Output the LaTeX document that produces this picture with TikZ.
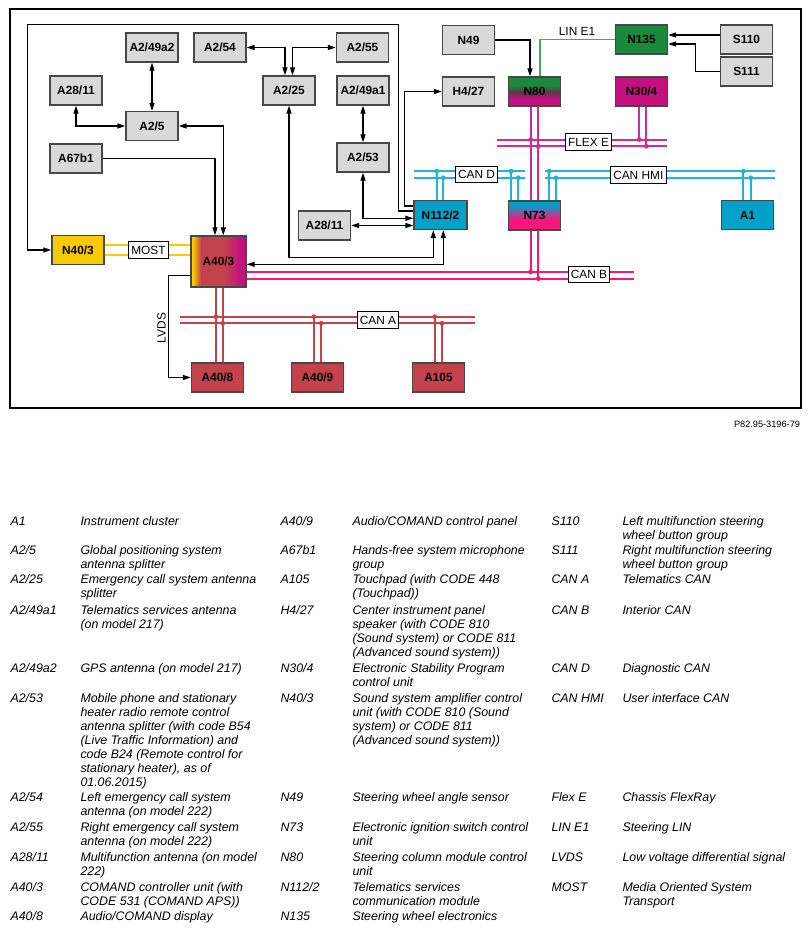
\documentclass[tikz,border=0pt]{standalone}
\usepackage{fontspec}
\setmainfont{Liberation Sans}
\usetikzlibrary{arrows.meta,calc}

\definecolor{boxgrey}{HTML}{D9D9D9}
\definecolor{edgegrey}{HTML}{474747}
\definecolor{ecucyan}{HTML}{00A1C9}
\definecolor{buscyan}{HTML}{20B3DB}
\definecolor{ecugreen}{HTML}{1B893B}
\definecolor{lingreen}{HTML}{45A862}
\definecolor{ecumag}{HTML}{C4117F}
\definecolor{flexmag}{HTML}{CF2A9E}
\definecolor{canbpink}{HTML}{F7167C}
\definecolor{canared}{HTML}{C3424B}
\definecolor{mostyel}{HTML}{F7CB00}
\colorlet{mostorange}{mostyel!55!canared}
\colorlet{columndark}{ecumag!50!ecugreen!75!black}
\colorlet{ignitionmix}{ecucyan!50!canbpink}

\pgfdeclarehorizontalshading{comandshade}{100bp}{color(0bp)=(mostyel); color(25bp)=(mostyel); color(27bp)=(mostyel); color(30bp)=(mostorange); color(34bp)=(canared); color(55bp)=(canared); color(70bp)=(ecumag); color(100bp)=(ecumag)}
\pgfdeclareverticalshading{columnshade}{100bp}{color(0bp)=(ecumag); color(38bp)=(ecumag); color(50bp)=(columndark); color(60bp)=(ecugreen); color(100bp)=(ecugreen)}
\pgfdeclareverticalshading{ignitionshade}{100bp}{color(0bp)=(canbpink); color(44bp)=(canbpink); color(56bp)=(ignitionmix); color(68bp)=(ecucyan); color(100bp)=(ecucyan)}

% legend entry set from its first baseline
\newcommand{\legdesc}[1]{\begin{tabular}[t]{@{}l@{}}#1\end{tabular}}

\tikzset{every picture/.style={line width=0.75pt}}
\tikzset{
  ecu/.style={draw=edgegrey, line width=1pt, minimum width=39pt, minimum height=21.75pt, inner sep=0pt, font=\fontsize{8.9}{10}\selectfont\bfseries},
  greybox/.style={ecu, fill=boxgrey},
  cyanbox/.style={ecu, fill=ecucyan},
  redbox/.style={ecu, fill=canared},
  arr/.style={-{Triangle[length=6pt,width=3.8pt]}, line width=0.9pt},
  dbl/.style={{Triangle[length=6pt,width=3.8pt]}-{Triangle[length=6pt,width=3.8pt]}, line width=0.9pt},
  lin/.style={draw=lingreen, line width=0.9pt},
  bus/.style={line width=1.5pt, double=white, double distance=3.45pt},
  widebus/.style={line width=1.5pt, double=white, double distance=5.5pt},
  tap/.style={line width=1.5pt},
  buslabel/.style={draw=black, fill=white, line width=0.6pt, inner xsep=2pt, inner ysep=0pt, minimum height=12.5pt, font=\fontsize{8.9}{10}\selectfont},
  plain/.style={inner sep=0pt, font=\fontsize{8.9}{10}\selectfont},
  legcode/.style={anchor=base west, inner sep=0pt, font=\fontsize{9.3}{10.6}\selectfont\itshape},
  legtext/.style={legcode},
}

\begin{document}
\begin{tikzpicture}[x=0.75pt,y=0.75pt,yscale=-1,xscale=1]
\path[use as bounding box] (0,0) rectangle (811,931);

%Shape: Frame
\draw[line width=0.9pt] (10,9) rectangle (801,408);

%Control units
\node[greybox] (A249a2) at (152,47.5) {A2/49a2};
\node[greybox] (A254) at (220,47.5) {A2/54};
\node[greybox] (A255) at (362.5,47.5) {A2/55};
\node[greybox] (A2811t) at (76,90.5) {A28/11};
\node[greybox] (A225) at (289,90.5) {A2/25};
\node[greybox] (A249a1) at (363,90.5) {A2/49a1};
\node[greybox] (A25) at (152,126) {A2/5};
\node[greybox] (A67b1) at (76,158.5) {A67b1};
\node[greybox] (A253) at (363,157.5) {A2/53};
\node[greybox] (N49) at (468.5,40) {N49};
\node[greybox] (H427) at (468.5,91.5) {H4/27};
\node[greybox] (S110) at (746.5,39.5) {S110};
\node[greybox] (S111) at (746.5,71.5) {S111};
\node[ecu, fill=ecugreen] (N135) at (641.5,39.5) {N135};
\node[ecu, shade, shading=columnshade] (N80) at (534.5,91.5) {N80};
\node[ecu, fill=ecumag] (N304) at (641.5,91.5) {N30/4};
\node[cyanbox, minimum width=39.75pt] (N1122) at (440.5,215) {N112/2};
\node[ecu, shade, shading=ignitionshade] (N73) at (534.5,215.5) {N73};
\node[cyanbox] (A1) at (747.5,215) {A1};
\node[greybox] (A2811m) at (324.5,225.5) {A28/11};
\node[ecu, fill=mostyel] (N403) at (78,250) {N40/3};
\node[ecu, shade, shading=comandshade, minimum width=41.25pt, minimum height=38.25pt] (A403) at (218.5,261.5) {A40/3};
\node[redbox] (A408) at (217.5,377.5) {A40/8};
\node[redbox] (A409) at (317.5,377.5) {A40/9};
\node[redbox] (A105) at (438.5,377.5) {A105};

%Bend points of the long return line
\coordinate (loopNE) at (398.3,24.3);
\coordinate (loopNW) at (27.7,24.3);

%Signal lines
\draw[dbl] (A249a2.south) -- (A25.north);
\draw[dbl] (A2811t.south) |- (A25.west);
\draw[dbl] (A25.east) -| ($(A403.north)+(4.8,0)$);
\draw[arr] (A67b1.east) -| ($(A403.north)+(-3.5,0)$);
\draw[dbl] (A254.east) -| ($(A225.north)+(-4,0)$);
\draw[dbl] (A255.west) -| ($(A225.north)+(3.5,0)$);
\draw[dbl] (A249a1.south) -- (A253.north);
\draw[dbl] (A253.south) |- ($(N1122.west)+(0,3.3)$);
\draw[dbl] (A2811m.east) -- (A2811m.east -| N1122.west);
\draw[dbl] (A225.south) |- ($(N1122.south)+(-7.2,27.7)$) -- ($(N1122.south)+(-7.2,0)$);
\draw[dbl] ($(A403.east)+(0,2.8)$) -| ($(N1122.south)+(2.8,0)$);
\draw[arr] ($(N1122.west)+(0,-9)$) -| ($(H427.west)+(-37,0)$) -- (H427.west);
\draw[arr] ($(N1122.west)+(0,-4)$) -| (loopNE) -- (loopNW) |- (N403.west);
\draw[arr] (N49.east) -| ($(N80.north)+(-4.5,0)$);
\draw[lin] ($(N80.north)+(5.5,0)$) |- (N135.west);
\draw[arr] ($(S110.west)+(0,-4.5)$) -- ($(N135.east)+(0,-4.5)$);
\draw[arr] (S111.west) -- ++(-24.3,0) |- ($(N135.east)+(0,4.5)$);
\draw[arr] ($(A403.west)+(0,13.8)$) -- ++(-22,0) |- (A408.west);

%Bus ends
\coordinate (flexW) at (496.7,142.85);
\coordinate (flexE) at (666.7,142.85);
\coordinate (canDW) at (414.3,174.5);
\coordinate (canDE) at (525,174.5);
\coordinate (hmiW) at (545,174.5);
\coordinate (hmiE) at (775,174.5);
\coordinate (canBE) at (634,275.3);
\coordinate (canAW) at (180,320);
\coordinate (canAE) at (475,320);

%Bus junctions
\coordinate (df1) at (530.7,139.5);
\coordinate (df2) at (538.3,146.2);
\coordinate (df3) at (639.3,139.5);
\coordinate (df4) at (646.3,146.2);
\coordinate (dd1) at (436.7,171.2);
\coordinate (dd2) at (443.3,177.8);
\coordinate (dd3) at (511,171.2);
\coordinate (dd4) at (518.3,177.8);
\coordinate (dh1) at (549.3,171.2);
\coordinate (dh2) at (556,177.8);
\coordinate (dh3) at (743.3,171.2);
\coordinate (dh4) at (750.7,177.8);
\coordinate (db1) at (530.7,272);
\coordinate (db2) at (538.3,278.6);
\coordinate (da1) at (216,316.7);
\coordinate (da2) at (222.7,323.3);
\coordinate (da3) at (314,316.7);
\coordinate (da4) at (321.3,323.3);
\coordinate (da5) at (434.7,316.7);
\coordinate (da6) at (442,323.3);

%Buses
\draw[widebus, draw=mostyel] (N403.east) -- (N403.east -| A403.west);
\draw[bus, draw=flexmag] (flexW) -- (flexE);
\draw[bus, draw=buscyan] (canDW) -- (canDE);
\draw[bus, draw=buscyan] (hmiW) -- (hmiE);
\draw[bus, draw=canbpink] (A403.east |- canBE) -- (canBE);
\draw[bus, draw=canared] (canAW) -- (canAE);

%Stubs
\draw[tap, flexmag] (N80.south -| df1) -- (N73.north -| df1);
\draw[tap, flexmag] (N80.south -| df2) -- (N73.north -| df2);
\draw[tap, flexmag] (N304.south -| df3) -- (df3);
\draw[tap, flexmag] (N304.south -| df4) -- (df4);
\draw[tap, buscyan] (dd1) -- (N1122.north -| dd1);
\draw[tap, buscyan] (dd2) -- (N1122.north -| dd2);
\draw[tap, buscyan] (dd3) -- (N73.north -| dd3);
\draw[tap, buscyan] (dd4) -- (N73.north -| dd4);
\draw[tap, buscyan] (dh1) -- (N73.north -| dh1);
\draw[tap, buscyan] (dh2) -- (N73.north -| dh2);
\draw[tap, buscyan] (dh3) -- (A1.north -| dh3);
\draw[tap, buscyan] (dh4) -- (A1.north -| dh4);
\draw[tap, canbpink] (N73.south -| db1) -- (db1);
\draw[tap, canbpink] (N73.south -| db2) -- (db2);
\draw[tap, canared] (A403.south -| da1) -- (A408.north -| da1);
\draw[tap, canared] (A403.south -| da2) -- (A408.north -| da2);
\draw[tap, canared] (da3) -- (A409.north -| da3);
\draw[tap, canared] (da4) -- (A409.north -| da4);
\draw[tap, canared] (da5) -- (A105.north -| da5);
\draw[tap, canared] (da6) -- (A105.north -| da6);

\fill[flexmag] (df1) circle (2.4) (df2) circle (2.4) (df3) circle (2.4) (df4) circle (2.4);
\fill[buscyan] (dd1) circle (2.4) (dd2) circle (2.4) (dd3) circle (2.4) (dd4) circle (2.4);
\fill[buscyan] (dh1) circle (2.4) (dh2) circle (2.4) (dh3) circle (2.4) (dh4) circle (2.4);
\fill[canbpink] (db1) circle (2.4) (db2) circle (2.4);
\fill[canared] (da1) circle (2.4) (da2) circle (2.4) (da3) circle (2.4) (da4) circle (2.4) (da5) circle (2.4) (da6) circle (2.4);

% Text Node
\node[buslabel] (most) at (148.5,250) {MOST};
\node[buslabel] (canA) at (378,320) {CAN A};
\node[buslabel] (canB) at (589,274.5) {CAN B};
\node[buslabel] (flexE) at (588.5,142) {FLEX E};
\node[buslabel] (canD) at (476.5,174.5) {CAN D};
\node[buslabel] (canHMI) at (638.3,175) {CAN HMI};
\node[plain] (linE1) at (577,31) {LIN E1};
\node[plain, rotate=90] (lvds) at (161.5,328) {LVDS};
\node[plain, anchor=east, font=\fontsize{6.9}{8}\selectfont] (pnum) at (800.5,424) {P82.95-3196-79};

% Legend, first column
\node[legcode] (ka1) at (10,525) {A1};
\node[legtext] (ta1) at (80,525) {Instrument cluster};
\node[legcode] (ka2) at (10,554) {A2/5};
\node[legtext] (ta2) at (80,554) {\legdesc{Global positioning system\\antenna splitter}};
\node[legcode] (ka3) at (10,583) {A2/25};
\node[legtext] (ta3) at (80,583) {\legdesc{Emergency call system antenna\\splitter}};
\node[legcode] (ka4) at (10,614) {A2/49a1};
\node[legtext] (ta4) at (80,614) {\legdesc{Telematics services antenna\\(on model 217)}};
\node[legcode] (ka5) at (10,672) {A2/49a2};
\node[legtext] (ta5) at (80,672) {GPS antenna (on model 217)};
\node[legcode] (ka6) at (10,702) {A2/53};
\node[legtext] (ta6) at (80,702) {\legdesc{Mobile phone and stationary\\heater radio remote control\\antenna splitter (with code B54\\(Live Traffic Information) and\\code B24 (Remote control for\\stationary heater), as of\\01.06.2015)}};
\node[legcode] (ka7) at (10,801) {A2/54};
\node[legtext] (ta7) at (80,801) {\legdesc{Left emergency call system\\antenna (on model 222)}};
\node[legcode] (ka8) at (10,831) {A2/55};
\node[legtext] (ta8) at (80,831) {\legdesc{Right emergency call system\\antenna (on model 222)}};
\node[legcode] (ka9) at (10,861) {A28/11};
\node[legtext] (ta9) at (80,861) {\legdesc{Multifunction antenna (on model\\222)}};
\node[legcode] (ka10) at (10,891) {A40/3};
\node[legtext] (ta10) at (80,891) {\legdesc{COMAND controller unit (with\\CODE 531 (COMAND APS))}};
\node[legcode] (ka11) at (10,920) {A40/8};
\node[legtext] (ta11) at (80,920) {Audio/COMAND display};

% Legend, second column
\node[legcode] (kb1) at (280,525) {A40/9};
\node[legtext] (tb1) at (352,525) {Audio/COMAND control panel};
\node[legcode] (kb2) at (280,554) {A67b1};
\node[legtext] (tb2) at (352,554) {\legdesc{Hands-free system microphone\\group}};
\node[legcode] (kb3) at (280,583) {A105};
\node[legtext] (tb3) at (352,583) {\legdesc{Touchpad (with CODE 448\\(Touchpad))}};
\node[legcode] (kb4) at (280,614) {H4/27};
\node[legtext] (tb4) at (352,614) {\legdesc{Center instrument panel\\speaker (with CODE 810\\(Sound system) or CODE 811\\(Advanced sound system))}};
\node[legcode] (kb5) at (280,672) {N30/4};
\node[legtext] (tb5) at (352,672) {\legdesc{Electronic Stability Program\\control unit}};
\node[legcode] (kb6) at (280,702) {N40/3};
\node[legtext] (tb6) at (352,702) {\legdesc{Sound system amplifier control\\unit (with CODE 810 (Sound\\system) or CODE 811\\(Advanced sound system))}};
\node[legcode] (kb7) at (280,801) {N49};
\node[legtext] (tb7) at (352,801) {Steering wheel angle sensor};
\node[legcode] (kb8) at (280,831) {N73};
\node[legtext] (tb8) at (352,831) {\legdesc{Electronic ignition switch control\\unit}};
\node[legcode] (kb9) at (280,861) {N80};
\node[legtext] (tb9) at (352,861) {\legdesc{Steering column module control\\unit}};
\node[legcode] (kb10) at (280,891) {N112/2};
\node[legtext] (tb10) at (352,891) {\legdesc{Telematics services\\communication module}};
\node[legcode] (kb11) at (280,920) {N135};
\node[legtext] (tb11) at (352,920) {Steering wheel electronics};

% Legend, third column
\node[legcode] (kc1) at (551,525) {S110};
\node[legtext] (tc1) at (622,525) {\legdesc{Left multifunction steering\\wheel button group}};
\node[legcode] (kc2) at (551,554) {S111};
\node[legtext] (tc2) at (622,554) {\legdesc{Right multifunction steering\\wheel button group}};
\node[legcode] (kc3) at (551,583) {CAN A};
\node[legtext] (tc3) at (622,583) {Telematics CAN};
\node[legcode] (kc4) at (551,614) {CAN B};
\node[legtext] (tc4) at (622,614) {Interior CAN};
\node[legcode] (kc5) at (551,672) {CAN D};
\node[legtext] (tc5) at (622,672) {Diagnostic CAN};
\node[legcode] (kc6) at (551,702) {CAN HMI};
\node[legtext] (tc6) at (622,702) {User interface CAN};
\node[legcode] (kc7) at (551,801) {Flex E};
\node[legtext] (tc7) at (622,801) {Chassis FlexRay};
\node[legcode] (kc8) at (551,831) {LIN E1};
\node[legtext] (tc8) at (622,831) {Steering LIN};
\node[legcode] (kc9) at (551,861) {LVDS};
\node[legtext] (tc9) at (622,861) {Low voltage differential signal};
\node[legcode] (kc10) at (551,891) {MOST};
\node[legtext] (tc10) at (622,891) {\legdesc{Media Oriented System\\Transport}};

\end{tikzpicture}
\end{document}
